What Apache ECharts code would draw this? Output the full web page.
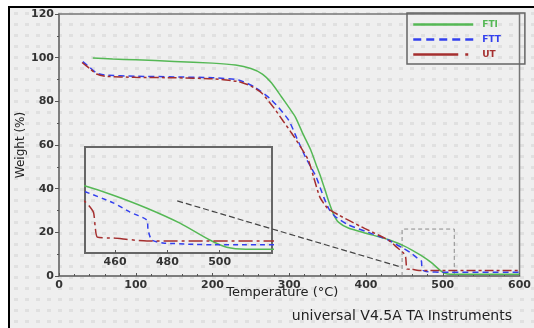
<!DOCTYPE html>
<html>
<head>
<meta charset="utf-8">
<script src="https://cdn.jsdelivr.net/npm/echarts@6/dist/echarts.min.js"></script>
<style>
  html, body { margin: 0; padding: 0; background: #fff; }
  #paper {
    position: absolute; left: 8px; top: 6px; width: 526px; height: 322px;
    border-top: 2px solid #000; border-left: 2px solid #000;
    background-color: #efefef;
    background-image: url("data:image/svg+xml;utf8,<svg xmlns='http://www.w3.org/2000/svg' width='11' height='11'><rect x='4' y='4' width='4' height='3' fill='%23e0e0e0'/></svg>");
  }
  #chart { position: absolute; left: 0; top: 0; width: 534px; height: 328px; }
</style>
</head>
<body>
<div id="paper"></div>
<div id="chart"></div>
<script>
// TGA curves, [temperature °C, weight %]
const fti = [
  [44, 99.9], [70, 99.4], [100, 99.0], [150, 98.3], [200, 97.5], [230, 96.6],
  [250, 95.0], [265, 92.5], [277, 88.4], [290, 82], [300, 77], [308, 72.8],
  [318, 65], [328, 57.7], [335, 51], [341, 45.4], [347, 39], [352, 33.5],
  [358, 28], [364, 24.7], [377, 22], [400, 19.6], [430, 16.6], [448.6, 13.9],
  [459.3, 12.0], [472.2, 9.3], [484.8, 6.2], [496.2, 2.7], [502.7, 1.2],
  [510, 0.8], [600, 0.8],
];
const ftt = [
  [31, 98.2], [40, 95.5], [49, 93], [60, 92], [100, 91.5], [150, 91.2],
  [200, 90.8], [234, 89.8], [255, 86.5], [277, 80.6], [299, 71.5], [310, 63],
  [321, 54.5], [328, 50], [335, 45.4], [345, 36], [352, 30.5], [360, 27.2],
  [377, 23.4], [403, 20], [429, 16.5], [440, 14.3], [448.6, 12.7],
  [459.3, 10.4], [465.7, 8.5], [472.2, 6.8], [472.6, 4.8], [474, 2.7],
  [478.3, 2.1], [490, 1.8], [497.4, 1.7], [600, 1.7],
];
const ut = [
  [30, 97.8], [40, 95], [49, 92.5], [60, 91.5], [100, 91], [150, 90.8],
  [200, 90.3], [234, 89], [250, 87], [264, 83.8], [280, 77], [292, 71],
  [303, 65.5], [315, 59], [325, 53], [332, 45], [340, 36], [350, 31],
  [364, 28], [394, 22.5], [429, 16.5], [440, 13.2], [448.6, 10.6],
  [451.7, 8.5], [452.4, 5.4], [453.2, 3.3], [459.3, 3.1], [472.2, 2.5],
  [600, 2.5],
];
// zoomed region outline and the pointer line to the inset
const zoomBox = [[447, 0], [447, 21.5], [515, 21.5], [515, 0]];
const pointerLine = [[154, 34.4], [445.6, 4.1]];
const insetTicks = [460, 480, 500];

const FONT = 'DejaVu Sans';
const COLORS = { fti: '#55b855', ftt: '#3340ee', ut: '#a52f2f' };
const tickLabel = { fontFamily: FONT, fontSize: 11, fontWeight: 'bold', color: '#333' };

const chart = echarts.init(document.getElementById('chart'), null, { renderer: 'canvas' });

function curve(name, data, color, type, axisIdx) {
  return {
    name,
    type: 'line',
    data,
    xAxisIndex: axisIdx,
    yAxisIndex: axisIdx,
    symbol: 'none',
    smooth: 0.2,
    clip: true,
    lineStyle: { color, width: 1.5, type },
    itemStyle: { color },
    z: 3,
  };
}

chart.setOption({
  backgroundColor: 'transparent',
  animation: false,
  grid: [
    { left: 59, top: 14, width: 463, height: 262, show: true, borderColor: '#777', borderWidth: 1.5 },
    { left: 85, top: 147, width: 187, height: 106, show: true, borderColor: '#666', borderWidth: 2 },
  ],
  legend: {
    orient: 'vertical',
    left: 407,
    top: 13,
    padding: [7, 24, 5, 5],
    itemWidth: 60,
    itemHeight: 8,
    itemGap: 6,
    borderColor: '#666',
    borderWidth: 1.5,
    itemStyle: { opacity: 0 },
    textStyle: { fontFamily: FONT, fontSize: 9, fontWeight: 'bold', padding: [0, 0, 0, 4] },
    data: [
      { name: 'FTI', textStyle: { color: COLORS.fti }, lineStyle: { width: 2.5 } },
      { name: 'FTT', textStyle: { color: COLORS.ftt }, lineStyle: { width: 2.5, type: [8, 5] } },
      { name: 'UT', textStyle: { color: COLORS.ut }, lineStyle: { width: 2.5, type: [45, 7, 3, 5] } },
    ],
  },
  xAxis: [
    {
      type: 'value', gridIndex: 0, min: 0, max: 600, interval: 100,
      name: 'Temperature (°C)', nameLocation: 'middle', nameGap: 10, nameMoveOverlap: false,
      nameTextStyle: { fontFamily: FONT, fontSize: 13, color: '#222', padding: [0, 14, 0, 0] },
      axisLine: { show: true, lineStyle: { color: '#777', width: 1.5 } },
      axisTick: { show: true, inside: true, length: 3, lineStyle: { color: '#555' } },
      minorTick: { show: true, splitNumber: 5, length: 2, lineStyle: { color: '#555' } },
      axisLabel: { ...tickLabel, margin: 4 },
      splitLine: { show: false },
    },
    {
      type: 'value', gridIndex: 1, min: 448.5, max: 520,
      axisLine: { show: false },
      axisTick: { show: true, inside: true, length: 3, customValues: insetTicks, lineStyle: { color: '#555' } },
      axisLabel: { ...tickLabel, margin: 4, customValues: insetTicks },
      splitLine: { show: false },
    },
  ],
  yAxis: [
    {
      type: 'value', gridIndex: 0, min: 0, max: 120, interval: 20,
      name: 'Weight (%)', nameLocation: 'middle', nameGap: 32, nameMoveOverlap: false,
      nameTextStyle: { fontFamily: FONT, fontSize: 12, color: '#222' },
      axisLine: { show: true, lineStyle: { color: '#777', width: 1.5 } },
      axisTick: { show: true, length: 4, lineStyle: { color: '#555' } },
      minorTick: { show: true, splitNumber: 2, length: 2, lineStyle: { color: '#555' } },
      axisLabel: { ...tickLabel, margin: 5 },
      splitLine: { show: false },
    },
    {
      type: 'value', gridIndex: 1, min: 0, max: 22,
      axisLine: { show: false }, axisTick: { show: false },
      axisLabel: { show: false }, splitLine: { show: false },
    },
  ],
  series: [
    curve('FTI', fti, COLORS.fti, 'solid', 0),
    curve('FTT', ftt, COLORS.ftt, [6, 4], 0),
    curve('UT', ut, COLORS.ut, [9, 3, 3, 3], 0),
    curve('FTI', fti, COLORS.fti, 'solid', 1),
    curve('FTT', ftt, COLORS.ftt, [5, 4], 1),
    curve('UT', ut, COLORS.ut, [14, 4, 3, 4], 1),
    {
      type: 'line', data: zoomBox, xAxisIndex: 0, yAxisIndex: 0, symbol: 'none',
      lineStyle: { color: '#8a8a8a', width: 1, type: [4, 3] }, z: 2, silent: true,
    },
    {
      type: 'line', data: pointerLine, xAxisIndex: 0, yAxisIndex: 0, symbol: 'none',
      lineStyle: { color: '#444', width: 1.2, type: [6, 3] }, z: 5, silent: true,
    },
  ],
  graphic: [
    {
      type: 'text', right: 22, top: 309,
      style: { text: 'universal V4.5A TA Instruments', fontFamily: FONT, fontSize: 14, fill: '#222' },
    },
  ],
});
</script>
</body>
</html>
